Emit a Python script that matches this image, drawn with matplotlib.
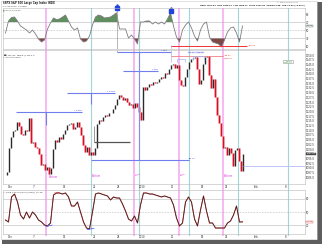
import matplotlib
matplotlib.use("Agg")
import matplotlib.pyplot as plt
from matplotlib.patches import Rectangle
import numpy as np

W, H = 322, 245

# ---------------- data ----------------
# $SPX intraday closes, 3 bars per trading day, 30-Nov-2009 .. 27-Jan-2010
price_close = [
    1086.2, 1087.8, 1100.5, 1106.4, 1109.6, 1110.1, 1114.4, 1112.2, 1108.0, 1107.4,
    1110.1, 1109.6, 1116.5, 1103.2, 1103.7, 1101.1, 1100.5, 1097.3, 1091.5, 1092.0,
    1088.8, 1090.4, 1086.7, 1089.9, 1100.0, 1104.8, 1103.7, 1106.4, 1105.3, 1108.0,
    1110.1, 1112.8, 1113.3, 1113.8, 1110.6, 1111.7, 1114.4, 1111.7, 1107.4, 1102.1,
    1098.4, 1101.1, 1096.8, 1098.4, 1096.8, 1100.5, 1113.3, 1115.4, 1114.9, 1117.0,
    1118.1, 1117.5, 1119.1, 1119.1, 1121.3, 1123.4, 1126.6, 1128.7, 1127.7, 1126.1,
    1127.1, 1125.0, 1123.4, 1123.9, 1121.8, 1124.5, 1122.3, 1119.7, 1115.4, 1133.0,
    1131.4, 1133.0, 1134.6, 1134.0, 1135.6, 1135.1, 1135.6, 1137.2, 1138.3, 1137.8,
    1140.4, 1139.9, 1142.6, 1144.7, 1145.2, 1143.1, 1144.7, 1136.7, 1134.0, 1133.5,
    1138.3, 1142.6, 1146.3, 1147.9, 1148.4, 1148.9, 1142.6, 1134.6, 1136.7, 1145.2,
    1148.9, 1149.5, 1139.4, 1132.4, 1137.2, 1127.7, 1118.1, 1113.8, 1106.9, 1100.5,
    1101.1, 1096.8, 1100.5, 1097.9, 1090.9, 1099.5, 1100.5, 1093.6, 1088.3, 1097.5]
bars_per_day = 3

# RSI(14), 2 readings per trading day
rsi_values = [
    42.5, 72.5, 81.2, 82.5, 72.5, 60.0, 55.0, 50.0, 42.5, 50.0,
    40.0, 27.5, 20.0, 25.0, 52.5, 67.5, 80.0, 76.2, 77.5, 82.5,
    87.5, 72.5, 57.5, 50.0, 55.0, 27.5, 20.0, 22.5, 35.0, 62.5,
    82.5, 87.5, 85.0, 80.0, 81.2, 82.5, 87.5, 93.0, 52.5, 52.5,
    52.5, 30.0, 37.5, 27.5, 15.0, 70.0, 70.0, 72.5, 72.5, 65.0,
    70.0, 65.0, 70.0, 65.0, 77.5, 93.0, 60.0, 32.5, 20.0, 50.0,
    62.5, 70.0, 55.0, 35.0, 22.5, 50.0, 65.0, 70.0, 32.5, 20.0,
    17.5, 15.0, 7.5, 25.0, 45.0, 55.0, 57.5, 42.5, 20.0, 60.0]

# Slow stochastic %K, 2 readings per trading day
stoch_k = [
    31.8, 27.3, 84.1, 90.9, 72.7, 43.2, 34.1, 50.0, 36.4, 50.0,
    43.2, 31.8, 27.3, 20.5, 18.2, 25.0, 88.6, 93.2, 93.2, 90.9,
    93.2, 84.1, 63.6, 63.6, 72.7, 50.0, 27.3, 13.6, 11.4, 50.0,
    90.9, 93.2, 90.9, 88.6, 86.4, 77.3, 84.1, 81.8, 81.8, 68.2,
    52.3, 34.1, 29.5, 40.9, 25.0, 65.9, 93.2, 93.2, 90.9, 90.9,
    88.6, 86.4, 84.1, 86.4, 84.1, 81.8, 65.9, 36.4, 18.2, 25.0,
    72.7, 84.1, 72.7, 34.1, 18.2, 54.5, 86.4, 52.3, 25.0, 25.0,
    13.6, 13.6, 13.6, 13.6, 25.0, 29.5, 43.2, 63.6, 27.3, 27.6]
ind_per_day = 2

# trading-day index of the axis labels
date_ticks = [1, 5, 10, 15, 19, 23, 28, 33, 37, 42, 47]
date_labels = ["Dec", "7", "14", "21", "28", "2010", "11", "18", "25", "Feb", "8"]
price_ticks = [1085 + 2.5 * i for i in range(27)]
rsi_ticks = [10, 30, 50, 70, 90]
sto_ticks = [20, 50, 80]

# annotation days (trading-day index)
pink_days = [7.0, 21.67, 29.17, 36.5]
teal_days = [14.5, 22.5, 30.83, 39.0, 47.33]

# ---------------- figure ----------------
plt.rcParams["font.family"] = ["DejaVu Sans"]
fig = plt.figure(figsize=(W / 100, H / 100), dpi=100)
fig.patch.set_facecolor("white")


def rect(x0, y0, x1, y1):
    return [x0 / W, 1 - y1 / H, (x1 - x0) / W, (y1 - y0) / H]


def ftext(x, y, s, **kw):
    fig.text(x / W, 1 - y / H, s, **kw)


XL = (-1 / 6, 301 / 6)
FS = 1.9
GRID = "#b8b8b8"

ov = fig.add_axes(rect(3, 8, 305, 236))
ov.set_xlim(XL)
ov.set_ylim(0, 1)
ov.axis("off")
ov.set_zorder(0)
for d in pink_days:
    ov.axvline(d, color="#f6a6f0", lw=1.1)
for d in teal_days:
    ov.axvline(d, color="#a3d6d6", lw=0.8)

ax_r = fig.add_axes(rect(3, 8, 305, 49))
ax_p = fig.add_axes(rect(3, 50, 305, 184))
ax_s = fig.add_axes(rect(3, 190, 305, 234))
for ax in (ax_r, ax_p, ax_s):
    ax.set_zorder(1)
    ax.patch.set_alpha(0)
    ax.set_xlim(XL)
    for sp in ax.spines.values():
        sp.set_color(GRID)
        sp.set_linewidth(0.4)
    ax.yaxis.tick_right()
    ax.tick_params(axis="both", length=0, labelsize=FS, pad=0.8, colors="#333333")

# ---- RSI panel ----
ix = np.array([(i + 0.5) / ind_per_day for i in range(len(rsi_values))])
rv = np.array(rsi_values)
ax_r.set_ylim(2.5, 105)
for lv, ls in ((70, "-"), (50, (0, (3, 2))), (30, "-")):
    ax_r.axhline(lv, color=GRID, lw=0.4, ls=ls)
ax_r.fill_between(ix, rv, 70, where=rv >= 70, interpolate=True, color="#5f8f5f", lw=0)
ax_r.fill_between(ix, rv, 30, where=rv <= 30, interpolate=True, color="#7f4848", lw=0)
ax_r.plot(ix, rv, color="#7d7d7d", lw=0.6)
ax_r.set_yticks(rsi_ticks)
ax_r.set_yticklabels([str(t) for t in rsi_ticks])
ax_r.set_xticks([])
ax_r.vlines(18.83, 2.5, 100, color="#9a9a9a", lw=0.5)
ax_r.vlines(27.83, 2.5, 12.5, color="#b0b8f0", lw=0.5)
ax_r.hlines(10.5, 27.83, 40.5, color="#ee3333", lw=0.7)
ax_r.text(40.7, 10.5, "Jan 28", color="#dd2222", fontsize=1.6, va="center", ha="left")
for d, y in ((18.83, 106), (27.83, 97)):
    ax_r.plot([d], [y], marker="s", ms=2.2, color="#2244dd", clip_on=False)
    ax_r.plot([d], [y + 5], marker="^", ms=2.6, color="#2244dd", clip_on=False)
ax_r.annotate(f"{rsi_values[-1]:.2f}", xy=(1.0, rsi_values[-1]),
              xycoords=("axes fraction", "data"), xytext=(1.2, 0),
              textcoords="offset points", fontsize=1.6, va="center", ha="left",
              color="#335533",
              bbox=dict(boxstyle="square,pad=0.2", fc="#e8f0e8", ec="#777777", lw=0.3))

# ---- price panel ----
px = np.array([(j + 0.5) / bars_per_day for j in range(len(price_close))])
pc = np.array(price_close)
po = np.concatenate([[pc[0]], pc[:-1]])
lo = np.minimum(po, pc)
hi = np.maximum(po, pc)
down = pc < po
ax_p.set_ylim(1081.4, 1152.66)
ax_p.vlines(px[down], lo[down], hi[down], colors="#f4b8c4", lw=2.0)
ax_p.vlines(px, lo, hi, colors=np.where(down, "#d81020", "#2a2a2a"), lw=1.0)
ax_p.set_yticks(price_ticks)
ax_p.set_yticklabels([f"{t:.1f}" for t in price_ticks])
ax_p.set_xticks(date_ticks)
ax_p.set_xticklabels(date_labels)

BL = "#6f7ff0"
ax_p.hlines(1151.6, 18.83, 27.83, color=BL, lw=0.8, clip_on=False)
ax_p.text(27.2, 1152.2, "7 top", color="#2233cc", fontsize=1.6, ha="right", va="bottom", clip_on=False)
ax_p.hlines(1141.5, 19.83, 25.67, color=BL, lw=0.8)
ax_p.text(25.6, 1142.0, "7 top", color="#2233cc", fontsize=1.6, ha="right", va="bottom")
ax_p.hlines(1130.0, 10.5, 18.5, color=BL, lw=0.8)
ax_p.text(18.4, 1130.5, "7.5 top", color="#2233cc", fontsize=1.6, ha="right", va="bottom")
ax_p.vlines(14.5, 1124.0, 1130.0, color=BL, lw=0.8)
ax_p.hlines(1119.7, 2.0, 13.0, color=BL, lw=0.8)
ax_p.text(12.9, 1120.2, "7.5 top", color="#2233cc", fontsize=1.6, ha="right", va="bottom")
ax_p.vlines(7.0, 1112.8, 1119.7, color=BL, lw=0.8)
ax_p.hlines(1103.7, 15.0, 21.0, color="#555555", lw=0.9)
ax_p.vlines(15.0, 1103.7, 1112.5, color="#888888", lw=0.6)
ax_p.hlines(1094.1, 14.5, 30.83, color=BL, lw=0.8)
ax_p.text(30.6, 1094.6, "Jan 14", color="#2233cc", fontsize=1.5, ha="left", va="bottom")
ax_p.vlines(22.5, 1094.1, 1151.6, color="#8090e0", lw=0.8)
ax_p.hlines(1091.1, 39.83, 50.5, color="#b4bff4", lw=0.6)
ax_p.vlines(18.83, 1151.6, 1152.66, color="#9a9a9a", lw=0.5)
ax_p.vlines(27.83, 1146.3, 1152.66, color="#b0b8f0", lw=0.5)
ax_p.hlines(1149.6, 27.83, 36.5, color="#f08080", lw=0.6)
ax_p.text(36.7, 1149.9, "Jan 21", color="#dd2222", fontsize=1.5, ha="left", va="center")
ax_p.text(36.7, 1148.0, "1150.45", color="#dd2222", fontsize=1.5, ha="left", va="center")
ax_p.text(30.7, 1151.4, "Jan 14  1148.46", color="#2233cc", fontsize=1.4, ha="left", va="center",
          bbox=dict(boxstyle="square,pad=0.15", fc="white", ec="#b0b8f0", lw=0.3))
for a, b, yb, yt in ((28.8, 30.2, 1146.3, 1147.9), (31.5, 33.3, 1147.2, 1149.3)):
    ax_p.hlines(yt, a, b, color="#a8b0f0", lw=0.5)
    ax_p.vlines([a, b], yb, yt, color="#a8b0f0", lw=0.5)

PK = "#e040e0"
ax_p.text(7.4, 1085.3, "Bottom", color=PK, fontsize=1.8, ha="left", va="center")
ax_p.text(14.6, 1085.6, "Bottom", color=PK, fontsize=1.8, ha="left", va="center")
ax_p.text(21.8, 1086.0, "Accel.\nsell", color=PK, fontsize=1.6, ha="left", va="center", linespacing=1.0)
ax_p.text(29.3, 1086.0, "Accel.\nSell", color=PK, fontsize=1.6, ha="left", va="center", linespacing=1.0)
ax_p.text(36.7, 1085.6, "Bottom", color=PK, fontsize=1.8, ha="left", va="center")
ax_p.text(47.4, 1146.5, "Feb 8\n1100.00", color="#229922", fontsize=1.5, ha="center", va="center",
          linespacing=1.1,
          bbox=dict(boxstyle="square,pad=0.3", fc="white", ec="#999999", lw=0.4))
ax_p.annotate(f"{price_close[-1]:.2f}", xy=(1.0, price_close[-1]),
              xycoords=("axes fraction", "data"), xytext=(1.2, 0),
              textcoords="offset points", fontsize=1.6, va="center", ha="left", color="white",
              bbox=dict(boxstyle="square,pad=0.25", fc="#4a4a4a", ec="#4a4a4a", lw=0.3))

# ---- stochastic panel ----
sv = np.array(stoch_k)
ax_s.set_ylim(0, 100)
for lv, ls in ((80, "-"), (50, (0, (3, 2))), (20, "-")):
    ax_s.axhline(lv, color=GRID, lw=0.4, ls=ls)
ax_s.plot(ix, sv, color="#e85050", lw=0.8)
ax_s.plot(ix, sv, color="#262626", lw=0.5)
ax_s.set_yticks(sto_ticks)
ax_s.set_yticklabels([str(t) for t in sto_ticks])
ax_s.set_xticks(date_ticks)
ax_s.set_xticklabels(date_labels)
ax_s.plot([7.0, 8.0], [17, 20], color="#5566ee", lw=0.6)
ax_s.plot([13.9, 15.0], [10, 13], color="#5566ee", lw=0.6)
ax_s.annotate(f"{stoch_k[-1]:.2f}", xy=(1.0, stoch_k[-1]),
              xycoords=("axes fraction", "data"), xytext=(1.2, 0),
              textcoords="offset points", fontsize=1.6, va="center", ha="left", color="#dd2222",
              bbox=dict(boxstyle="square,pad=0.2", fc="white", ec="#dd5555", lw=0.3))

# ---------------- header / legend texts ----------------
ftext(3, 3, r"\$SPX S&P 500 Large Cap Index INDX", fontsize=1.8, fontweight="bold", va="center", color="#222222")
ftext(3, 6.5, "27-Jan-2010  4:00pm", fontsize=1.6, va="center", color="#333333")
ftext(3, 10, "\u25B2 RSI(14) 60.25", fontsize=1.6, va="center", color="#335533")
ftext(298, 1.8, "\u00A9 StockCharts.com", fontsize=1.5, va="center", ha="right", color="#666666")
ftext(305, 5, "Open 1091.94  High 1099.51  Low 1083.11  Close 1097.50  Volume 5.9B  Chg +5.33 (+0.49%)",
      fontsize=1.45, va="center", ha="right", color="#222222", fontweight="bold")
ftext(3, 55, r"$\blacksquare$ \$SPX (60 Minute) 1097.50", fontsize=1.5, va="center", color="#333333")
ftext(3, 57.8, "\u2014 Volume undef", fontsize=1.5, va="center", color="#333333")
ftext(3, 192.5, "\u2014 Slow STO %K(14,3) %D(3) 37.49,", fontsize=1.6, va="center", color="#333333")
ftext(54, 192.5, "27.58", fontsize=1.6, va="center", color="#dd2222")

# ---------------- frame shadow ----------------
fig.add_artist(Rectangle((316.5 / W, 1 - 244 / H), 5.5 / W, 242 / H,
                         transform=fig.transFigure, color="#5e5e5e", lw=0))
fig.add_artist(Rectangle((2 / W, 1 - 244 / H), 320 / W, 4.5 / H,
                         transform=fig.transFigure, color="#5e5e5e", lw=0))
fig.add_artist(Rectangle((0.5 / W, 1 - 239 / H), 316 / W, 238 / H,
                         transform=fig.transFigure, fill=False, ec="#c8c8c8", lw=0.4))

fig.savefig("out.png", dpi=100, facecolor="white")
